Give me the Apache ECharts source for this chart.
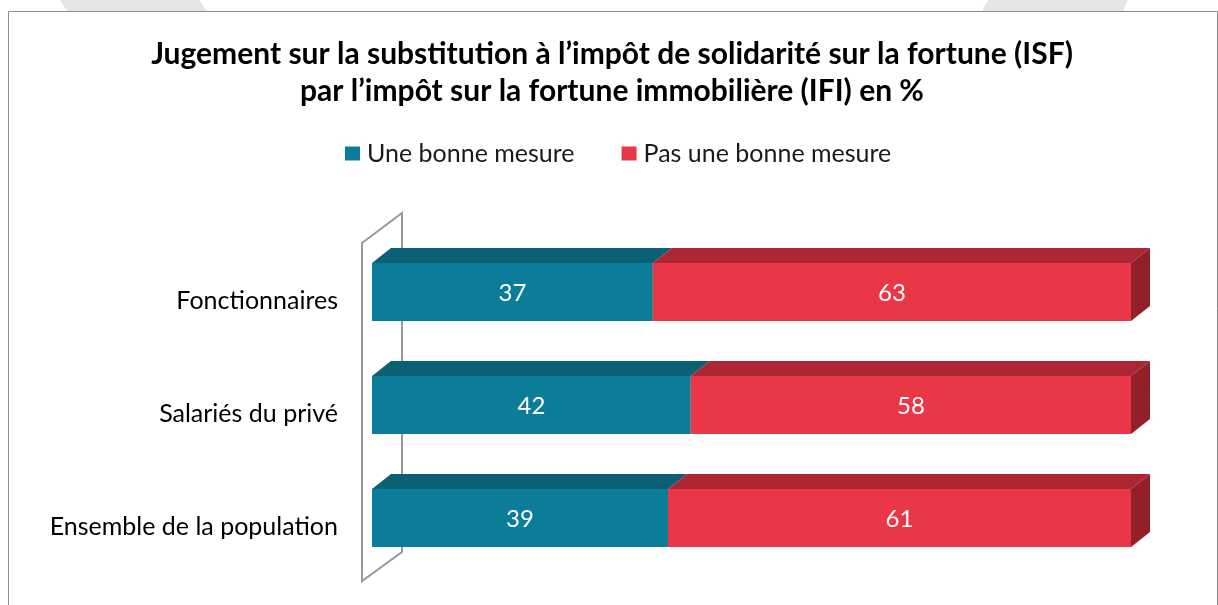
<!DOCTYPE html>
<html>
<head>
<meta charset="utf-8">
<style>
  html, body { margin: 0; padding: 0; background: #fff; }
  #main { width: 1218px; height: 605px; }
</style>
<script src="https://cdn.jsdelivr.net/npm/echarts@6/dist/echarts.min.js"></script>
</head>
<body>
<div id="main"></div>
<script>
const titleText = "Jugement sur la substitution à l’impôt de solidarité sur la fortune (ISF)\npar l’impôt sur la fortune immobilière (IFI) en %";
const categories = ["Fonctionnaires", "Salariés du privé", "Ensemble de la population"];
const bonneMesure = [37, 42, 39];
const pasBonneMesure = [63, 58, 61];

const fontName = "Lato";
const depthX = 19;
const depthY = -15;

// top + side faces of the fake 3D bars, front faces are normal bars
function depthFaces(topColor, sideColor) {
  return function (params, api) {
    const cat = api.value(0);
    const a = api.coord([api.value(1), cat]);
    const b = api.coord([api.value(2), cat]);
    const h = api.size([0, 1])[1] * 58 / 113;
    const y = a[1] - h / 2;
    const children = [{
      type: "polygon",
      shape: { points: [[a[0], y], [b[0], y], [b[0] + depthX, y + depthY], [a[0] + depthX, y + depthY]] },
      style: { fill: topColor }
    }];
    if (sideColor) {
      children.push({
        type: "polygon",
        shape: { points: [[b[0], y], [b[0] + depthX, y + depthY], [b[0] + depthX, y + h + depthY], [b[0], y + h]] },
        style: { fill: sideColor }
      });
    }
    return { type: "group", children: children };
  };
}

const chart = echarts.init(document.getElementById("main"));
chart.setOption({
  animation: false,
  backgroundColor: "#fff",
  textStyle: { fontFamily: fontName },
  title: {
    text: titleText,
    left: 607,
    top: 31,
    textAlign: "center",
    textStyle: { fontFamily: fontName, fontSize: 30, fontWeight: "bold", color: "#000", lineHeight: 37 }
  },
  legend: {
    data: ["Une bonne mesure", "Pas une bonne mesure"],
    left: 340,
    top: 136,
    icon: "rect",
    itemWidth: 15,
    itemHeight: 14,
    itemGap: 47,
    textStyle: { fontFamily: fontName, fontSize: 25, color: "#1a1a1a", padding: [0, 0, 0, 2] }
  },
  grid: { left: 372, top: 235.5, width: 759, height: 339 },
  xAxis: { type: "value", min: 0, max: 100, show: false },
  yAxis: {
    type: "category",
    inverse: true,
    data: categories,
    axisLine: { show: false },
    axisTick: { show: false },
    // labels sit a bit below the bar centres in the original
    axisLabel: { margin: 34, fontFamily: fontName, fontSize: 25, color: "#000", verticalAlign: "top", lineHeight: 18 }
  },
  graphic: [
    // watermark scraps above the frame
    { type: "polygon", z: 0, shape: { points: [[60, 0], [199, 0], [207, 11], [67, 11]] }, style: { fill: "#e6e6e6" } },
    { type: "polygon", z: 0, shape: { points: [[988, 0], [1128, 0], [1123, 11], [982, 11]] }, style: { fill: "#e6e6e6" } },
    // frame, bottom edge is cut off
    { type: "polyline", z: 1, shape: { points: [[8.5, 605], [8.5, 11.5], [1217.5, 11.5], [1217.5, 605]] }, style: { fill: null, stroke: "#8c8c8c", lineWidth: 1 } },
    // back wall
    { type: "polygon", z: 1, shape: { points: [[362, 243], [402, 213], [402, 552], [362, 581]] }, style: { fill: "#fff", stroke: "#999", lineWidth: 2 } }
  ],
  series: [
    {
      name: "Une bonne mesure",
      type: "bar",
      stack: "total",
      barWidth: 58,
      z: 3,
      data: bonneMesure,
      itemStyle: { color: "#0b7d99" },
      label: { show: true, position: "inside", offset: [0, 1], color: "#fff", fontFamily: fontName, fontSize: 24 }
    },
    {
      name: "Pas une bonne mesure",
      type: "bar",
      stack: "total",
      barWidth: 58,
      z: 3,
      data: pasBonneMesure,
      itemStyle: { color: "#e93748" },
      label: { show: true, position: "inside", offset: [0, 1], color: "#fff", fontFamily: fontName, fontSize: 24 }
    },
    {
      type: "custom",
      z: 2,
      clip: false,
      silent: true,
      encode: { x: [1, 2], y: 0 },
      renderItem: depthFaces("#0a6175", null),
      data: categories.map((c, i) => [i, 0, bonneMesure[i]])
    },
    {
      type: "custom",
      z: 2,
      clip: false,
      silent: true,
      encode: { x: [1, 2], y: 0 },
      renderItem: depthFaces("#ad2633", "#932029"),
      data: categories.map((c, i) => [i, bonneMesure[i], bonneMesure[i] + pasBonneMesure[i]])
    }
  ]
});
</script>
</body>
</html>
